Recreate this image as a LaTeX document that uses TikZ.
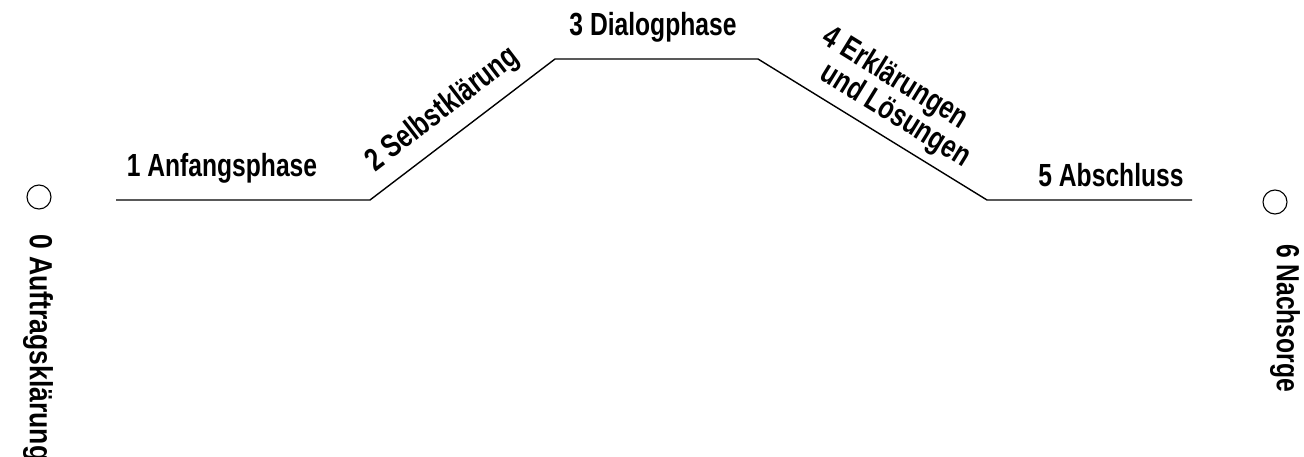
\documentclass[tikz,border=0pt]{standalone}
\usepackage{fontspec}
\newfontfamily\lblfont{Liberation Sans}[FakeStretch=0.77]
\newfontfamily\lblwidefont{Liberation Sans}[FakeStretch=0.83]
\begin{document}
\begin{tikzpicture}[x=1pt,y=-1pt,
  lbl/.style={inner sep=0pt,font=\lblfont\bfseries\fontsize{32}{34}\selectfont},
  lblwide/.style={inner sep=0pt,font=\lblwidefont\bfseries\fontsize{32}{34}\selectfont},
  phaseline/.style={line width=1.4pt,line join=miter},
  marker/.style={circle,draw,line width=1.1pt,minimum size=24pt,inner sep=0pt}]
\useasboundingbox (0,0) rectangle (1304,457);
\coordinate (p0) at (116,200);
\coordinate (p1) at (370,200);
\coordinate (p2) at (555,59);
\coordinate (p3) at (758,59);
\coordinate (p4) at (987,200);
\coordinate (p5) at (1192,200);
\draw[phaseline] (p0) -- (p1) -- (p2) -- (p3) -- (p4) -- (p5);
\node[lbl] (n1) at (222,168) {1 Anfangsphase};
\node[lbl,rotate=37.5] (n2) at (443,110) {2 Selbstklärung};
\node[lbl] (n3) at (653,27) {3 Dialogphase};
\node[lbl,rotate=-31.6] (n4a) at (895,79) {4 Erklärungen};
\node[lbl,rotate=-31.6] (n4b) at (895,116) {und Lösungen};
\node[lbl] (n5) at (1111,175) {5 Abschluss};
\node[marker] (c0) at (39,197) {};
\node[marker] (c6) at (1275,202) {};
\node[lblwide,rotate=-90,anchor=west] (n0) at (38,234) {0 Auftragsklärung};
\node[lbl,rotate=-90,anchor=west] (n6) at (1285,244) {6 Nachsorge};
\end{tikzpicture}
\end{document}
